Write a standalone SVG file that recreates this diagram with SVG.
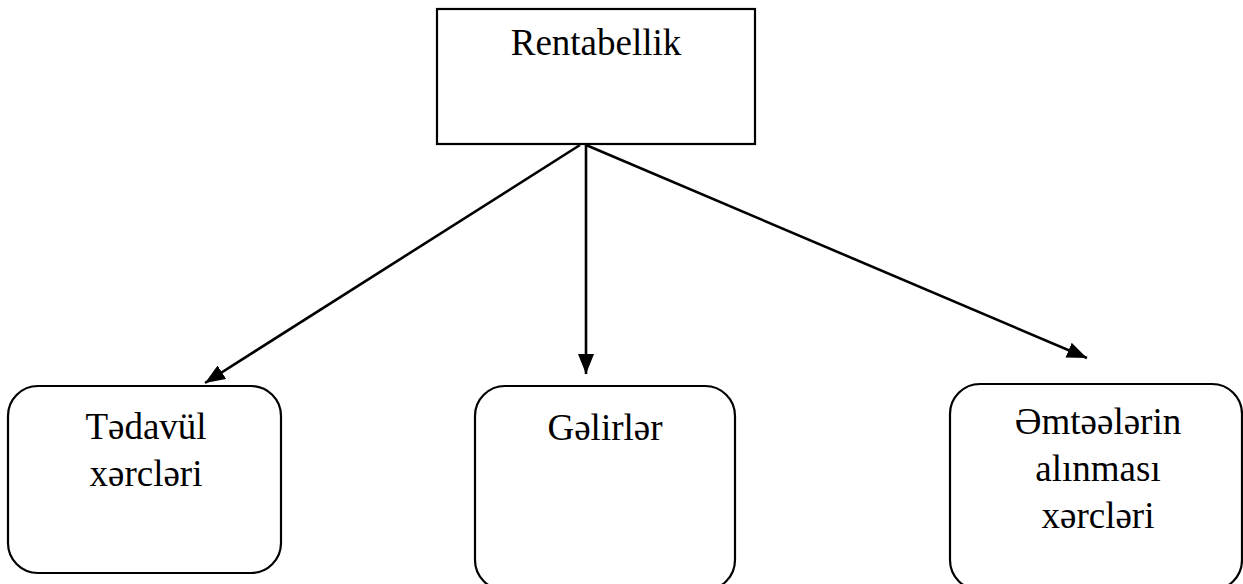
<svg xmlns="http://www.w3.org/2000/svg" width="1243" height="584" viewBox="0 0 1243 584">
<defs>
<style>
.box{fill:#fff;stroke:#000;stroke-width:2.2}
.t{font-family:"Liberation Serif","Times New Roman",serif;font-size:37px;fill:#000;text-anchor:middle}
.c{stroke:#000;stroke-width:2.6;fill:none}
</style>
<marker id="ah" viewBox="0 0 20 16" refX="20" refY="8" markerWidth="20" markerHeight="16" markerUnits="userSpaceOnUse" orient="auto">
<path d="M0,0 L20,8 L0,16 Z" fill="#000"/>
</marker>
</defs>
<rect width="1243" height="584" fill="#fff"/>
<g id="connectors">
<line class="c" x1="580" y1="145" x2="205" y2="383" marker-end="url(#ah)"/>
<line class="c" x1="586" y1="145" x2="586" y2="374" marker-end="url(#ah)"/>
<line class="c" x1="586" y1="145" x2="1087" y2="358" marker-end="url(#ah)"/>
</g>
<g id="rentabellik">
<rect class="box" x="437" y="9" width="318" height="135"/>
<text class="t" x="596" y="55">Rentabellik</text>
</g>
<g id="tedavul">
<rect class="box" x="8" y="386" width="273" height="187" rx="30" ry="30"/>
<text class="t" x="146" y="439">Tədavül</text>
<text class="t" x="146" y="486">xərcləri</text>
</g>
<g id="gelirler">
<rect class="box" x="475" y="386" width="260" height="204" rx="30" ry="30"/>
<text class="t" x="605" y="440">Gəlirlər</text>
</g>
<g id="emteelerin">
<rect class="box" x="950" y="384" width="292" height="206" rx="30" ry="30"/>
<text class="t" x="1098" y="434">Əmtəələrin</text>
<text class="t" x="1098" y="481">alınması</text>
<text class="t" x="1098" y="528">xərcləri</text>
</g>
</svg>
